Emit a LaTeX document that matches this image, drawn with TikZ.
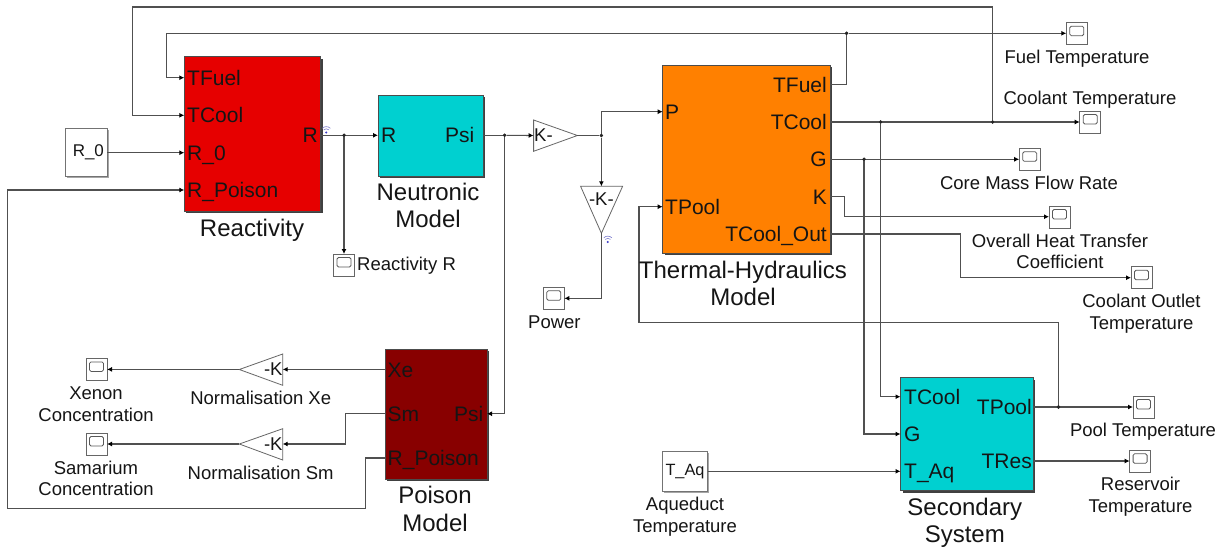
\documentclass[tikz,border=0pt]{standalone}
\usepackage{fontspec}
\setmainfont{Liberation Sans}
\usetikzlibrary{arrows.meta,shadows}
\definecolor{linec}{HTML}{505050}
\definecolor{textc}{HTML}{151515}
\newcommand{\fs}[2]{\fontsize{#1}{#2}\selectfont}
\tikzset{
  sig/.style={draw=linec,line width=1.1pt},
  arr/.style={sig,-{Latex[length=5pt,width=5pt,black]}},
  block/.style={draw=black!70,line width=0.8pt,inner sep=0pt,outer sep=0pt,anchor=north west,
    drop shadow={shadow xshift=2pt,shadow yshift=-2pt,fill=black!75,opacity=1}},
  const/.style={draw=black!55,fill=white,line width=0.8pt,inner sep=0pt,outer sep=0pt,anchor=north west,text=textc,
    font=\fs{17}{20},drop shadow={shadow xshift=1.5pt,shadow yshift=-1.5pt,fill=black!35,opacity=1}},
  scopebox/.style={draw=black!60,fill=white,line width=0.8pt,inner sep=0pt,outer sep=0pt,anchor=north west,
    minimum width=21pt,minimum height=22pt,
    path picture={\draw[black!65,line width=0.8pt,rounded corners=1.5pt]
      ([xshift=-7pt,yshift=-2pt]path picture bounding box.center) rectangle
      ([xshift=7pt,yshift=7.5pt]path picture bounding box.center);}},
  portL/.style={anchor=base west,inner sep=0pt,text=textc,font=\fs{21}{25},yshift=-7.6pt},
  portR/.style={anchor=base east,inner sep=0pt,text=textc,font=\fs{21}{25},yshift=-7.6pt},
  blocktitle/.style={inner sep=0pt,text=textc,font=\fs{24}{27.5},align=center},
  captext/.style={inner sep=0pt,text=textc,font=\fs{18.5}{21.6},align=center},
  gaintext/.style={inner sep=0pt,text=textc,font=\fs{18.5}{22}},
  tri/.style={draw=black!60,fill=white,line width=0.8pt},
  jdot/.style={circle,fill=black!85,inner sep=0pt,minimum size=3.6pt},
  wifi/.style={draw=blue!45!gray!70,line width=0.6pt}
}
\begin{document}
\begin{tikzpicture}[x=1pt,y=-1pt]
\useasboundingbox (0,0) rectangle (1222,546);
\fill[white] (0,0) rectangle (1222,546);

% ---------- blocks
\node[block,fill={rgb,255:red,230;green,0;blue,0},minimum width=136.4pt,minimum height=154.3pt] (react) at (184.3,56.7) {};
\node[block,fill={rgb,255:red,0;green,208;blue,208},minimum width=105.3pt,minimum height=81pt] (neut) at (378,95) {};
\node[block,fill={rgb,255:red,255;green,128;blue,0},minimum width=167.3pt,minimum height=188pt] (therm) at (662.7,65) {};
\node[block,fill={rgb,255:red,136;green,0;blue,0},minimum width=102pt,minimum height=130pt] (poison) at (385,349) {};
\node[block,fill={rgb,255:red,0;green,208;blue,208},minimum width=132.5pt,minimum height=113pt] (second) at (900.5,377.7) {};
\node[const,minimum width=41.3pt,minimum height=47.3pt] (rzero) at (65.7,128.7) {\hspace*{4pt}R\_0};
\node[const,minimum width=45pt,minimum height=40.7pt,font=\fs{16.3}{20}] (taq) at (662.5,451) {T\_Aq};

% ---------- gains
\draw[tri] (533.6,120) -- (577.4,135.5) -- (533.6,151.3) -- cycle;
\node[gaintext,anchor=west] (gainK) at (534,135.5) {K-};
\draw[tri] (580.6,186.3) -- (622.6,186.3) -- (601.4,233.3) -- cycle;
\node[gaintext] (gainP) at (601.4,199) {-K-};
\draw[tri] (282.7,354) -- (239.3,369.5) -- (282.7,385.3) -- cycle;
\node[gaintext,anchor=east] (gainXe) at (282.7,369.5) {-K};
\draw[tri] (282.7,428.7) -- (239.3,444) -- (282.7,460) -- cycle;
\node[gaintext,anchor=east] (gainSm) at (282.7,444) {-K};

% ---------- scopes
\node[scopebox] (sFuel) at (1066.3,22.7) {};
\node[scopebox] (sCool) at (1079.7,111) {};
\node[scopebox] (sFlow) at (1019.2,148.3) {};
\node[scopebox] (sHeat) at (1049,206) {};
\node[scopebox] (sOut) at (1131,266.7) {};
\node[scopebox] (sPool) at (1133,396) {};
\node[scopebox] (sRes) at (1129.6,450.3) {};
\node[scopebox] (sPower) at (543.3,287.3) {};
\node[scopebox] (sR) at (333.5,254) {};
\node[scopebox] (sXe) at (86,358.4) {};
\node[scopebox] (sSm) at (86,433) {};

% ---------- ports
\coordinate (rFuelIn) at (184.3,77.7);
\coordinate (rCoolIn) at (184.3,115.3);
\coordinate (rZeroIn) at (184.3,152.7);
\coordinate (rPoisIn) at (184.3,190);
\coordinate (rOut) at (320.7,135.3);
\coordinate (nIn) at (378,135.3);
\coordinate (nOut) at (483.3,135.3);
\coordinate (gKin) at (533.6,135.5);
\coordinate (gKout) at (577.4,135.5);
\coordinate (tPin) at (662.7,111.7);
\coordinate (tPoolIn) at (662.7,206.7);
\coordinate (tFuelOut) at (830,84.7);
\coordinate (tCoolOut) at (830,122);
\coordinate (tGOut) at (830,159.3);
\coordinate (tKOut) at (830,196.7);
\coordinate (tOutOut) at (830,234);
\coordinate (pXe) at (385,369.4);
\coordinate (pSm) at (385,413.7);
\coordinate (pRP) at (385,458);
\coordinate (pPsi) at (487,413.7);
\coordinate (sCoolIn) at (900.5,396.7);
\coordinate (sGIn) at (900.5,434);
\coordinate (sAqIn) at (900.5,471.3);
\coordinate (sPoolOut) at (1033,407);
\coordinate (sResOut) at (1033,461);

% ---------- junctions
\node[jdot] (jR) at (344,135.3) {};
\node[jdot] (jPsi) at (504.6,135.3) {};
\node[jdot] (jP) at (601.4,135.5) {};
\node[jdot] (jFuel) at (846.5,33.3) {};
\node[jdot] (jCa) at (880.6,122) {};
\node[jdot] (jCb) at (992.6,122) {};
\node[jdot] (jG) at (864,159.3) {};
\node[jdot] (jPool) at (1058.5,407) {};

% ---------- connectors
\draw[arr] (rzero.east |- rZeroIn) -- (rZeroIn);
\draw[arr] (rOut) -- (nIn);
\draw[arr] (jR) -- (jR |- sR.north);
\draw[sig] (nOut) -- (jPsi);
\draw[arr] (jPsi) -- (gKin);
\draw[arr] (jPsi) |- (pPsi);
\draw[sig] (gKout) -- (jP);
\draw[arr] (jP) |- (tPin);
\draw[arr] (jP) -- (601.4,186.3);
\draw[arr] (601.4,233.3) |- (sPower.east);
\draw[sig] (tFuelOut) -| (jFuel);
\draw[arr] (jFuel) -- (jFuel -| sFuel.west);
\draw[arr] (jFuel) -- (166.7,33.3) |- (rFuelIn);
\draw[arr] (tCoolOut) -- (tCoolOut -| sCool.west);
\draw[arr] (jCb) -- (992.6,7) -- (132.3,7) |- (rCoolIn);
\draw[arr] (tGOut) -- (tGOut -| sFlow.west);
\draw[arr] (tKOut) -| (844.7,216.7) -- (844.7,216.7 -| sHeat.west);
\draw[arr] (tOutOut) -| (960.8,277.7) -- (960.8,277.7 -| sOut.west);
\draw[arr] (jCa) |- (sCoolIn);
\draw[arr] (jG) |- (sGIn);
\draw[arr] (sPoolOut) -- (sPoolOut -| sPool.west);
\draw[arr] (sResOut) -- (sResOut -| sRes.west);
\draw[arr] (jPool) -- (1058.5,322.7) -- (639,322.7) |- (tPoolIn);
\draw[arr] (taq.east |- sAqIn) -- (sAqIn);
\draw[arr] (pXe) -- (282.7,369.4);
\draw[arr] (239.3,369.4) -- (sXe.east |- 0,369.4);
\draw[arr] (pSm) -- (345.7,413.7) |- (282.7,444);
\draw[arr] (239.3,444) -- (sSm.east |- 0,444);
\draw[arr] (pRP) -- (365.7,458) |- (7.3,508.7) |- (rPoisIn);

\foreach \n in {jR,jPsi,jP,jFuel,jCa,jCb,jG,jPool}{\node[jdot] at (\n) {};}

% ---------- wireless marks
\foreach \wx/\wy in {326.3/132.5,607.8/242}{
  \fill[blue!55!gray] (\wx,\wy) circle (1.1pt);
  \draw[wifi] (\wx-2.6,\wy-2.6) arc[start angle=135,end angle=45,radius=3.7pt];
  \draw[wifi] (\wx-4,\wy-4.2) arc[start angle=135,end angle=45,radius=5.7pt];
}

% ---------- port labels
\node[portL] (l1) at (187,77.7) {TFuel};
\node[portL] (l2) at (187,115.3) {TCool};
\node[portL] (l3) at (187,152.7) {R\_0};
\node[portL] (l4) at (187,190) {R\_Poison};
\node[portR] (l5) at (318,135.3) {R};
\node[portL] (l6) at (381,135.3) {R};
\node[portR] (l7) at (474.5,135.3) {Psi};
\node[portL] (l8) at (665,111.7) {P};
\node[portL] (l9) at (665,206.7) {TPool};
\node[portR] (l10) at (827,84.7) {TFuel};
\node[portR] (l11) at (827,122) {TCool};
\node[portR] (l12) at (827,159.3) {G};
\node[portR] (l13) at (827,196.7) {K};
\node[portR] (l14) at (827,234) {TCool\_Out};
\node[portL] (l15) at (387.5,369.4) {Xe};
\node[portL] (l16) at (387.5,413.7) {Sm};
\node[portL] (l17) at (387.5,458) {R\_Poison};
\node[portR] (l18) at (483.5,413.7) {Psi};
\node[portL] (l19) at (904,396.7) {TCool};
\node[portL] (l20) at (904,434) {G};
\node[portL] (l21) at (904,471.3) {T\_Aq};
\node[portR] (l22) at (1032,407) {TPool};
\node[portR] (l23) at (1032,461) {TRes};

% ---------- titles
\node[blocktitle] (tReact) at (252,230.5) {Reactivity};
\node[blocktitle] (tNeut) at (428,205.3) {Neutronic\\Model};
\node[blocktitle] (tTherm) at (743,283.3) {Thermal-Hydraulics\\Model};
\node[blocktitle] (tPois) at (435,509) {Poison\\Model};
\node[blocktitle] (tSec) at (964.8,522.8) {Secondary\\System};

% ---------- captions
\node[captext,anchor=west] (cR) at (357,266) {Reactivity R};
\node[captext] (cPower) at (554.4,322) {Power};
\node[captext] (cFuel) at (1077,59) {Fuel Temperature};
\node[captext] (cCool) at (1090,100) {Coolant Temperature};
\node[captext] (cFlow) at (1029,182.7) {Core Mass Flow Rate};
\node[captext] (cHeat) at (1060,251.5) {Overall Heat Transfer\\Coefficient};
\node[captext] (cOut) at (1141.5,314) {Coolant Outlet\\Temperature};
\node[captext] (cPool) at (1143,432) {Pool Temperature};
\node[captext] (cRes) at (1140.5,497) {Reservoir\\Temperature};
\node[captext] (cAq) at (685,517) {Aqueduct\\Temperature};
\node[captext] (cXe) at (96,404) {Xenon\\Concentration};
\node[captext] (cSm) at (96,478.5) {Samarium\\Concentration};
\node[captext] (cNXe) at (260.7,397.7) {Normalisation Xe};
\node[captext] (cNSm) at (260.7,472.7) {Normalisation Sm};
\end{tikzpicture}
\end{document}
